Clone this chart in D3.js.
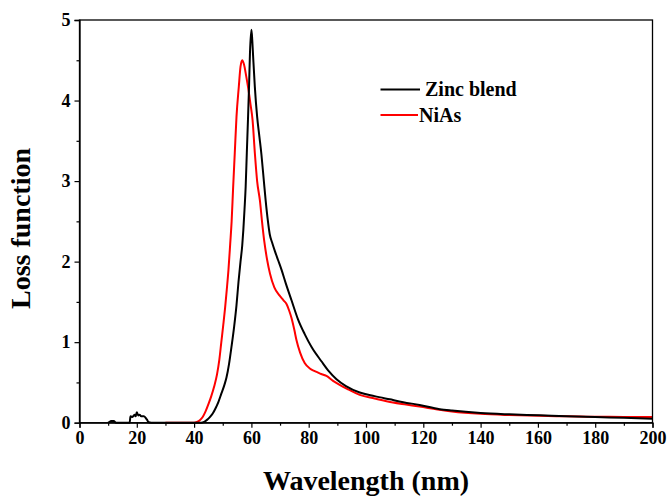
<!DOCTYPE html>
<html>
<head>
<meta charset="utf-8">
<script src="https://cdn.jsdelivr.net/npm/d3@7"></script>
<style>
  html, body { margin: 0; padding: 0; background: #fff; }
  svg { display: block; font-family: "Liberation Serif", "Times New Roman", serif; }
</style>
</head>
<body>
<svg id="chart" width="667" height="498"></svg>
<script>
// Energy loss function vs wavelength for two crystal phases
const seriesNames = ["Zinc blend", "NiAs"];
const seriesColors = ["#000000", "#ff0000"];

// Zinc blend phase: [wavelength (nm), loss function]
const zincBlend = [
  [10, 0], [10.5, 0.01], [11, 0.02], [12, 0.02], [12.5, 0.005], [13, 0],
  [17.5, 0], [17.8, 0.08], [18.5, 0.07], [19.2, 0.1], [19.6, 0.08], [20, 0.13],
  [20.5, 0.09], [21, 0.1], [21.5, 0.08], [22.5, 0.08], [23.5, 0.04], [24.2, 0.005],
  [25, 0], [30, 0], [40, 0], [42.5, 0], [43.5, 0.01], [44.5, 0.035], [45.5, 0.07],
  [46.5, 0.115], [47.5, 0.18], [48.5, 0.26], [49.5, 0.36], [50.5, 0.46],
  [51.3, 0.56], [52.2, 0.73], [53, 0.93], [54, 1.2], [54.8, 1.46], [55.5, 1.75],
  [56.2, 2.0], [56.8, 2.2], [57.2, 2.4], [57.6, 2.65], [58, 2.93], [58.4, 3.35],
  [58.8, 3.76], [59.2, 4.2], [59.5, 4.59], [60.0, 4.88], [60.3, 4.75], [60.6, 4.55],
  [61.2, 4.17], [62, 3.8], [62.8, 3.55], [63.5, 3.33], [64.3, 3.02], [65, 2.75],
  [65.7, 2.52], [66.4, 2.34], [67.2, 2.24], [68.2, 2.13], [69.3, 2.02], [70.5, 1.9],
  [72, 1.73], [74, 1.52], [76.3, 1.28], [78.6, 1.1], [81, 0.94], [84.5, 0.76],
  [87, 0.64], [89.7, 0.54], [93, 0.455], [97.8, 0.375], [103, 0.33], [108.3, 0.29],
  [113, 0.255], [118.7, 0.22], [125.7, 0.168], [130, 0.15], [140, 0.12],
  [150, 0.104], [160.6, 0.092], [170, 0.08], [180, 0.07], [190, 0.06], [200, 0.05]
];

// NiAs phase: [wavelength (nm), loss function]
const niAs = [
  [30, 0], [40, 0], [41, 0.01], [42, 0.03], [43, 0.07], [44, 0.14], [45, 0.23],
  [46, 0.33], [47, 0.45], [48, 0.6], [48.8, 0.78], [49.5, 1.0], [50.2, 1.22],
  [50.8, 1.42], [51.4, 1.65], [52, 1.9], [52.6, 2.22], [53.1, 2.5], [53.6, 2.9],
  [54.2, 3.35], [54.8, 3.8], [55.6, 4.17], [56.2, 4.42], [56.8, 4.5], [57.4, 4.45],
  [58.2, 4.3], [58.9, 4.15], [59.7, 3.95], [60.4, 3.76], [61.2, 3.35], [62, 3.0],
  [63, 2.75], [63.7, 2.5], [64.5, 2.25], [65.5, 2.02], [66.5, 1.85], [68, 1.68],
  [69.8, 1.58], [71.2, 1.52], [72.3, 1.47], [73.2, 1.39], [74, 1.3], [75, 1.15],
  [75.7, 1.03], [77, 0.87], [78.6, 0.74], [80.5, 0.67], [82.1, 0.64], [84, 0.61],
  [86.2, 0.58], [88.5, 0.52], [90.8, 0.47], [94, 0.41], [97.8, 0.345], [103, 0.3],
  [109.4, 0.25], [114, 0.225], [118.7, 0.2], [125.7, 0.16], [130, 0.14],
  [140, 0.11], [150, 0.095], [160.6, 0.085], [170, 0.079], [174.5, 0.076],
  [180, 0.075], [190, 0.072], [200, 0.071]
];

const xMajorTicks = [0, 20, 40, 60, 80, 100, 120, 140, 160, 180, 200];
const xMinorTicks = [10, 30, 50, 70, 90, 110, 130, 150, 170, 190];
const yMajorTicks = [0, 1, 2, 3, 4, 5];
const yMinorTicks = [0.5, 1.5, 2.5, 3.5, 4.5];

const xTitle = "Wavelength (nm)";
const yTitle = "Loss function";

const svg = d3.select("#chart");
const plot = { left: 79.5, top: 20, right: 652.5, bottom: 422.7 };

const x = d3.scaleLinear().domain([0, 200]).range([plot.left, plot.right]);
const y = d3.scaleLinear().domain([0, 5]).range([plot.bottom, plot.top]);

// Curves
const line = d3.line()
  .x(d => x(d[0]))
  .y(d => y(d[1]))
  .curve(d3.curveMonotoneX);

const curves = [zincBlend, niAs];
// NiAs drawn first so the zinc blend curve sits on top where they overlap
[1, 0].forEach(i => {
  svg.append("path")
    .datum(curves[i])
    .attr("fill", "none")
    .attr("stroke", seriesColors[i])
    .attr("stroke-width", 2)
    .attr("stroke-linejoin", "round")
    .attr("d", line);
});

// Frame
svg.append("rect")
  .attr("x", plot.left).attr("y", plot.top)
  .attr("width", plot.right - plot.left)
  .attr("height", plot.bottom - plot.top)
  .attr("fill", "none")
  .attr("stroke", "#000")
  .attr("stroke-width", 1.3);

// Bottom axis: major + minor outward ticks
const xAxis = d3.axisBottom(x).tickValues(xMajorTicks).tickSize(5).tickPadding(4).tickFormat(d3.format("d"));
svg.append("g").attr("transform", `translate(0,${plot.bottom})`).call(xAxis);
svg.append("g").attr("transform", `translate(0,${plot.bottom})`)
  .call(d3.axisBottom(x).tickValues(xMinorTicks).tickSize(3).tickFormat(""))
  .call(g => g.select(".domain").remove());

// Left axis
const yAxis = d3.axisLeft(y).tickValues(yMajorTicks).tickSize(5).tickPadding(4).tickFormat(d3.format("d"));
svg.append("g").attr("transform", `translate(${plot.left},0)`).call(yAxis);
svg.append("g").attr("transform", `translate(${plot.left},0)`)
  .call(d3.axisLeft(y).tickValues(yMinorTicks).tickSize(3).tickFormat(""))
  .call(g => g.select(".domain").remove());

svg.selectAll(".tick line").attr("stroke", "#000").attr("stroke-width", 1.2);
svg.selectAll(".domain").attr("stroke", "#000").attr("stroke-width", 1.3);
svg.selectAll(".tick text")
  .attr("font-family", "'Liberation Serif', 'Times New Roman', serif")
  .attr("font-size", 18)
  .attr("font-weight", "bold")
  .attr("fill", "#000");

// Axis titles
svg.append("text")
  .attr("x", (plot.left + plot.right) / 2)
  .attr("y", 490)
  .attr("text-anchor", "middle")
  .attr("font-size", 28)
  .attr("font-weight", "bold")
  .text(xTitle);

svg.append("text")
  .attr("transform", `translate(29.5,228.5) rotate(-90)`)
  .attr("text-anchor", "middle")
  .attr("font-size", 28)
  .attr("font-weight", "bold")
  .text(yTitle);

// Legend
const legendRows = [
  { y: 89.5, x1: 380.5, x2: 420, tx: 425 },
  { y: 115, x1: 380.5, x2: 418, tx: 419 }
];
legendRows.forEach((r, i) => {
  svg.append("line")
    .attr("x1", r.x1).attr("x2", r.x2)
    .attr("y1", r.y).attr("y2", r.y)
    .attr("stroke", seriesColors[i])
    .attr("stroke-width", 2);
  svg.append("text")
    .attr("x", r.tx)
    .attr("y", r.y + 6.5)
    .attr("font-size", 20)
    .attr("font-weight", "bold")
    .attr("fill", "#000")
    .text(seriesNames[i]);
});
</script>
</body>
</html>
